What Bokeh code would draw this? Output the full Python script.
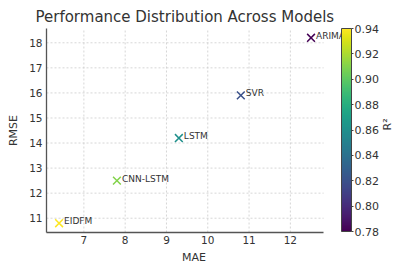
import math
from bokeh.plotting import figure
from bokeh.models import (ColumnDataSource, LinearColorMapper, ColorBar,
                          FixedTicker, Range1d, PrintfTickFormatter, LinearAxis)
from bokeh.palettes import Viridis256
from bokeh.transform import transform
from bokeh.embed import file_html
from bokeh.resources import INLINE

models = ["ARIMA", "SVR", "LSTM", "CNN-LSTM", "EIDFM"]
mae = [12.5, 10.8, 9.3, 7.8, 6.4]
rmse = [18.2, 15.9, 14.2, 12.5, 10.8]
r2 = [0.78, 0.82, 0.86, 0.91, 0.94]
x_ticks = [7, 8, 9, 10, 11, 12]
y_ticks = [11, 12, 13, 14, 15, 16, 17, 18]
cbar_ticks = [0.78, 0.80, 0.82, 0.84, 0.86, 0.88, 0.90, 0.92, 0.94]

FONT = "DejaVu Sans"
TXT = "#333333"

# layout (pixels)
W, H = 403, 266
B_LEFT, B_TOP = 46, 28
FRAME_W, FRAME_H = 297, 206            # frame reaches the colour bar
B_RIGHT = W - B_LEFT - FRAME_W
B_BOTTOM = H - B_TOP - FRAME_H
GRID_W = FRAME_W - 18                  # matplotlib axes area

xspan = max(mae) - min(mae)
yspan = max(rmse) - min(rmse)
x_lo, x_hi = min(mae) - 0.05 * xspan, max(mae) + 0.05 * xspan
y_lo, y_hi = min(rmse) - 0.05 * yspan, max(rmse) + 0.05 * yspan
x_end = x_lo + (x_hi - x_lo) * FRAME_W / GRID_W

p = figure(width=W, height=H, output_backend="svg", toolbar_location=None,
           x_range=Range1d(x_lo, x_end), y_range=Range1d(y_lo, y_hi),
           min_border_left=B_LEFT, min_border_right=B_RIGHT,
           min_border_top=B_TOP, min_border_bottom=B_BOTTOM,
           title="Performance Distribution Across Models")
p.title.text_font = FONT
p.title.text_font_size = "15px"
p.title.text_font_style = "normal"
p.title.text_color = TXT
p.title.align = "left"
p.title.offset = -11
p.title.standoff = 5
p.outline_line_color = None
p.background_fill_color = "white"
p.border_fill_color = "white"

# grid limited to the axes area
p.xgrid.visible = False
p.ygrid.visible = False
p.segment(x0=x_ticks, y0=[y_lo] * len(x_ticks), x1=x_ticks, y1=[y_hi] * len(x_ticks),
          line_color="#cccccc", line_dash="2 2", line_width=0.8)
p.segment(x0=[x_lo] * len(y_ticks), y0=y_ticks, x1=[x_hi] * len(y_ticks), y1=y_ticks,
          line_color="#cccccc", line_dash="2 2", line_width=0.8)

mapper = LinearColorMapper(palette=Viridis256, low=min(r2), high=max(r2))
src = ColumnDataSource(dict(x=mae, y=rmse, r2=r2, name=models))
p.scatter("x", "y", source=src, marker="x", size=11, line_width=1.5,
          line_color=transform("r2", mapper))
p.text("x", "y", text="name", source=src, x_offset=5, y_offset=-2,
       text_font_size="9px", text_color=TXT, text_baseline="alphabetic",
       text_align="left", text_font={"value": FONT})

for ax in (p.xaxis[0], p.yaxis[0]):
    ax.major_label_text_font = FONT
    ax.major_label_text_font_size = "10.5px"
    ax.major_label_text_color = TXT
    ax.axis_label_text_font = FONT
    ax.axis_label_text_font_size = "11px"
    ax.axis_label_text_font_style = "normal"
    ax.axis_label_text_color = TXT
    ax.axis_line_color = "#555555"
    ax.axis_line_width = 1.3
    ax.major_tick_out = 0
    ax.major_tick_in = 0
    ax.minor_tick_out = 0
    ax.minor_tick_in = 0
p.xaxis.major_label_standoff = 3
p.xaxis.axis_label_standoff = 4
p.yaxis.major_label_standoff = 4
p.yaxis.axis_label_standoff = 6
p.xaxis.bounds = (x_lo, x_hi)

p.xaxis.axis_label = "MAE"
p.yaxis.axis_label = "RMSE"
p.xaxis.ticker = FixedTicker(ticks=x_ticks)
p.yaxis.ticker = FixedTicker(ticks=y_ticks)

cb = ColorBar(color_mapper=mapper, ticker=FixedTicker(ticks=cbar_ticks),
              formatter=PrintfTickFormatter(format="%.2f"),
              width=10, height=FRAME_H - 3, padding=0, margin=0,
              major_label_text_font=FONT, major_label_text_font_size="11px",
              major_label_text_color=TXT, major_tick_in=0, major_tick_out=2,
              major_tick_line_color="#444444", label_standoff=1,
              bar_line_color="#444444", bar_line_width=1,
              background_fill_color=None, border_line_color=None)
p.add_layout(cb, "right")

rax = LinearAxis(axis_label="R²", ticker=FixedTicker(ticks=[]),
                 axis_line_color=None, major_tick_in=0, major_tick_out=0,
                 minor_tick_in=0, minor_tick_out=0, major_label_text_font_size="0px",
                 axis_label_text_font=FONT, axis_label_text_font_size="11px",
                 axis_label_text_font_style="normal", axis_label_text_color=TXT,
                 axis_label_standoff=6)
if "axis_label_orientation" in rax.properties():
    rax.axis_label_orientation = math.pi / 2
p.add_layout(rax, "right")

open("out.html", "w").write(file_html(p, INLINE))
